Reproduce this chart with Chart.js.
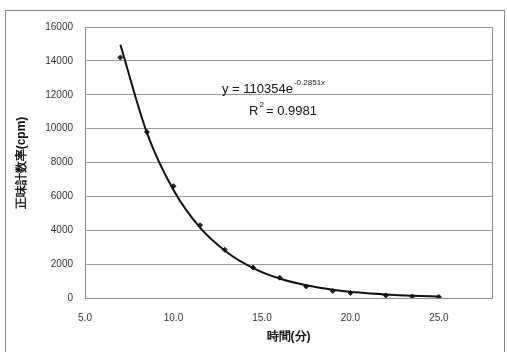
<!DOCTYPE html>
<html>
<head>
<meta charset="utf-8">
<script src="https://cdn.jsdelivr.net/npm/chart.js@4"></script>
<style>
  html, body { margin: 0; padding: 0; background: #fff; }
  #wrap { width: 507px; height: 352px; }
</style>
</head>
<body>
<div id="wrap"><canvas id="c" width="507" height="352"></canvas></div>
<script>
// measured points (time in minutes, net count rate in cpm)
const times = [7.0, 8.5, 10.0, 11.5, 12.9, 14.5, 16.0, 17.5, 19.0, 20.0, 22.0, 23.5, 25.0];
const rates = [14200, 9800, 6600, 4300, 2850, 1800, 1200, 680, 420, 300, 150, 90, 60];

// trend line
const trendTimes = [7.0, 8.5, 10.0, 11.5, 13.0, 14.5, 16.0, 17.5, 19.0, 20.5, 22.0, 23.5, 25.0];
const trendRates = [14950, 9750, 6370, 4150, 2720, 1770, 1150, 750, 490, 320, 210, 135, 88];

const xTicks = [5, 10, 15, 20, 25];
const equation = 'y = 110354e';
const exponent = '-0.2851x';
const rSquared = 'R';
const rValue = ' = 0.9981';
const xTitle = '時間(分)';
const yTitle = '正味計数率(cpm)';

const FONT = "'Liberation Sans', Arial, sans-serif";

const decorations = {
    id: 'decorations',
    beforeDraw(chart) {
        const c = chart.ctx;
        c.save();
        c.fillStyle = '#fff';
        c.fillRect(0, 0, chart.width, chart.height);
        c.strokeStyle = '#8a8a8a';
        c.lineWidth = 1;
        c.strokeRect(5.5, 10.5, 499, 345);
        c.restore();
    },
    afterDraw(chart) {
        const c = chart.ctx;
        const a = chart.chartArea;
        c.save();
        // right edge of the plot area
        c.strokeStyle = '#8c8c8c';
        c.beginPath();
        c.moveTo(Math.round(a.right) + 0.5, a.top);
        c.lineTo(Math.round(a.right) + 0.5, a.bottom);
        c.stroke();

        c.fillStyle = '#111';
        c.textBaseline = 'alphabetic';
        c.textAlign = 'left';
        c.font = '13px ' + FONT;
        c.fillText(equation, 222, 93);
        const w = c.measureText(equation).width;
        c.font = '8px ' + FONT;
        c.fillText(exponent, 222 + w + 1, 85);

        c.font = '13px ' + FONT;
        c.fillText(rSquared, 249, 115);
        const rw = c.measureText(rSquared).width;
        c.font = '8px ' + FONT;
        c.fillText('2', 249 + rw + 1, 107);
        c.font = '13px ' + FONT;
        c.fillText(rValue, 249 + rw + 4, 115);

        // axis titles
        c.font = 'bold 12px ' + FONT;
        c.textAlign = 'center';
        c.textBaseline = 'middle';
        c.fillText(xTitle, (a.left + a.right) / 2, 337);
        c.translate(22, 163);
        c.rotate(-Math.PI / 2);
        c.fillText(yTitle, 0, 0);
        c.restore();
    }
};

new Chart(document.getElementById('c'), {
    type: 'scatter',
    plugins: [decorations],
    data: {
        datasets: [{
            type: 'line',
            label: 'trend',
            data: trendTimes.map((t, i) => ({ x: t, y: trendRates[i] })),
            borderColor: '#111',
            borderWidth: 2,
            pointRadius: 0,
            cubicInterpolationMode: 'monotone',
            fill: false
        }, {
            label: 'measured',
            data: times.map((t, i) => ({ x: t, y: rates[i] })),
            pointStyle: 'rectRot',
            pointRadius: 2.5,
            backgroundColor: '#222',
            borderColor: '#222',
            borderWidth: 1
        }]
    },
    options: {
        responsive: false,
        animation: false,
        events: [],
        layout: { padding: { left: 0, top: 27, right: 15, bottom: 0 } },
        plugins: { legend: { display: false }, tooltip: { enabled: false } },
        scales: {
            x: {
                type: 'linear',
                min: 5,
                max: 28,
                afterBuildTicks: s => { s.ticks = xTicks.map(v => ({ value: v })); },
                afterFit: s => { s.height = 54; },
                grid: { display: false, drawTicks: false },
                border: { display: true, color: '#8c8c8c', width: 1 },
                ticks: {
                    padding: 14,
                    color: '#333',
                    font: { family: FONT, size: 10 },
                    callback: v => v.toFixed(1)
                }
            },
            y: {
                min: 0,
                max: 16000,
                afterFit: s => { s.width = 85; },
                grid: { color: '#9a9a9a', lineWidth: 1, drawTicks: false },
                border: { display: true, color: '#8c8c8c', width: 1 },
                ticks: {
                    stepSize: 2000,
                    padding: 12,
                    color: '#333',
                    font: { family: FONT, size: 10 },
                    callback: v => String(v)
                }
            }
        }
    }
});
</script>
</body>
</html>
